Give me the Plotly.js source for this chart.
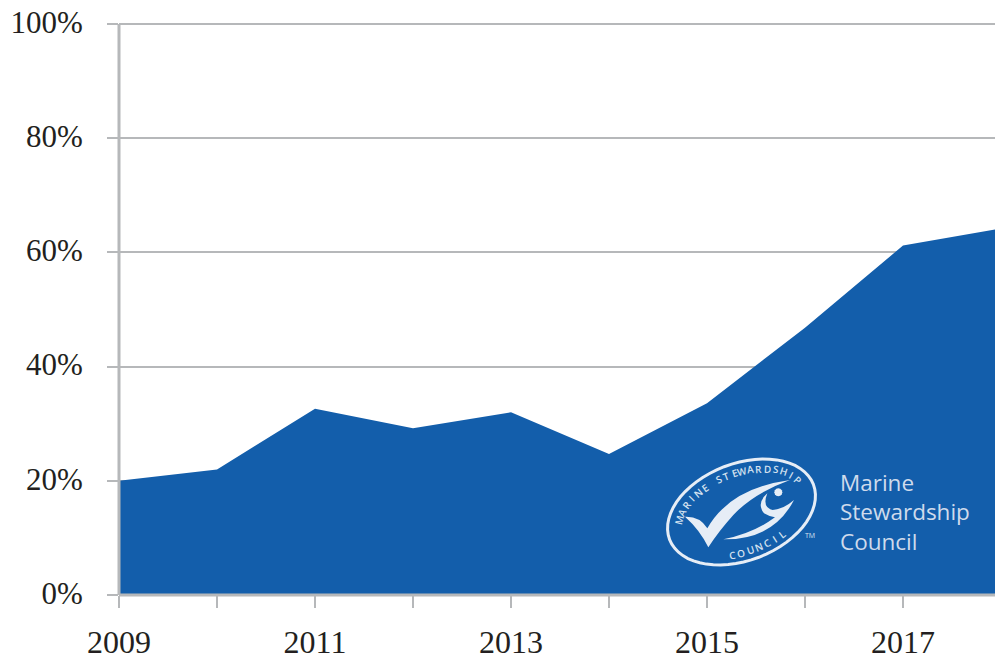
<!DOCTYPE html>
<html><head><meta charset="utf-8">
<script src="https://cdn.plot.ly/plotly-3.0.1.min.js"></script>
<style>html,body{margin:0;padding:0;background:#fff}#c{width:995px;height:661px}</style></head>
<body><div id="c"></div>
<script>
const years=[2009,2010,2011,2012,2013,2014,2015,2016,2017,2018];
const shares=[20,22,32.6,29.2,32,24.7,33.6,46.8,61.2,64.2];
const tickYears=[2009,2010,2011,2012,2013,2014,2015,2016,2017];
const tickYearLabels=['2009','','2011','','2013','','2015','','2017'];
const yTicks=[0,20,40,60,80,100];
const yLabels=['0%','20%','40%','60%','80%','100%'];
const logoLines=['Marine','Stewardship','Council'];
const ringTop='MARINE STEWARDSHIP';
const ringBottom='COUNCIL';
const tm='TM';
const font='"Liberation Serif","DejaVu Serif",serif';
const W=995,H=661,l=119,r=995,t=24,b=595;
const grey='#b6b8ba', ink='#231f20', blue='#135eab', logoWhite='#e6edf6';
const px=x=>(x-l)/(r-l), py=y=>1-(y-t)/(b-t);
const zx=x=>650+x/3, zy=y=>450+y/3;

// Logo geometry (decoration, in reference pixels)
const cx=741.5,cy=512,rot=-21*Math.PI/180;
const ell=(a,bb,d)=>{const q=d*Math.PI/180,u=a*Math.cos(q),v=bb*Math.sin(q);
  return [cx+u*Math.cos(rot)-v*Math.sin(rot),cy+u*Math.sin(rot)+v*Math.cos(rot)];};
let ringPath='';
for(let d=0;d<360;d+=6){const p=ell(77,48.5,d);ringPath+=(d?'L':'M')+px(p[0])+','+py(p[1]);}
ringPath+='Z';
const P=(x,y)=>px(zx(x))+','+py(zy(y));
const check='M'+P(105,200)+'Q'+P(150,198)+' '+P(172,235)+'Q'+P(240,115)+' '+P(420,90)
  +'Q'+P(310,130)+' '+P(250,195)+'Q'+P(205,245)+' '+P(175,292)+'Q'+P(150,240)+' '+P(105,200)+'Z';
const fish='M'+P(220,268)+'Q'+P(370,270)+' '+P(432,150)+'Q'+P(400,178)+' '+P(368,180)
  +'Q'+P(335,172)+' '+P(352,130)+'Q'+P(318,160)+' '+P(342,190)+'Q'+P(358,200)+' '+P(375,202)
  +'Q'+P(310,250)+' '+P(220,268)+'Z';
let dot='';
for(let d=0;d<360;d+=30){const q=d*Math.PI/180;dot+=(d?'L':'M')+P(385+12*Math.cos(q),127+12*Math.sin(q));}
dot+='Z';

// Letters set along the logo ring
function ringText(str,d0,d1,a,bb,size){
  const n=400,pts=[],len=[0];
  for(let i=0;i<=n;i++){pts.push(ell(a,bb,d0+(d1-d0)*i/n));
    if(i)len.push(len[i-1]+Math.hypot(pts[i][0]-pts[i-1][0],pts[i][1]-pts[i-1][1]));}
  return str.split('').map((ch,i)=>{
    if(ch===' ')return null;
    const target=len[n]*i/(str.length-1);
    let k=0;while(k<n&&len[k]<target)k++;
    const j0=Math.max(0,k-1),j1=Math.min(n,k+1);
    const ang=Math.atan2(pts[j1][1]-pts[j0][1],pts[j1][0]-pts[j0][0])*180/Math.PI;
    return {xref:'paper',yref:'paper',x:px(pts[k][0]),y:py(pts[k][1]),xanchor:'center',yanchor:'middle',
      text:ch,textangle:ang,showarrow:false,borderpad:0,borderwidth:0,
      font:{family:'"Open Sans",sans-serif',size:size,weight:600,color:'#d5e2f0'}};
  }).filter(Boolean);
}

const trace={x:years,y:shares,type:'scatter',mode:'lines',fill:'tozeroy',fillcolor:blue,line:{color:blue,width:0},hoverinfo:'x+y'};
const axisShape=(x0,y0,x1,y1,w)=>({type:'line',xref:'paper',yref:'paper',x0:px(x0),y0:py(y0),x1:px(x1),y1:py(y1),line:{color:grey,width:w}});
const fillShape=(path)=>({type:'path',xref:'paper',yref:'paper',path,fillcolor:logoWhite,line:{width:0}});
const layout={width:W,height:H,paper_bgcolor:'#fff',plot_bgcolor:'#fff',showlegend:false,
margin:{l:l,r:W-r,t:t,b:H-b,pad:0},
xaxis:{range:[2009,2009+(r-l)/98],tickvals:tickYears,ticktext:tickYearLabels,tickmode:'array',showgrid:false,zeroline:false,showline:false,
  ticks:'outside',ticklen:12,tickwidth:2,tickcolor:grey,ticklabelstandoff:7,tickfont:{family:font,size:32,color:ink},automargin:false},
yaxis:{range:[0,100],tickvals:yTicks,ticktext:yLabels,tickmode:'array',showgrid:true,gridcolor:grey,gridwidth:2,zeroline:false,showline:false,
  ticks:'outside',ticklen:11,tickwidth:2,tickcolor:grey,ticklabelstandoff:18,ticklabelshift:-2,tickfont:{family:font,size:31,color:ink},automargin:false},
shapes:[axisShape(l,t,r,t,2),axisShape(l,t,l,b,3),axisShape(l,b,r,b,3),
  {type:'path',xref:'paper',yref:'paper',path:ringPath,fillcolor:'rgba(0,0,0,0)',line:{color:logoWhite,width:3}},
  fillShape(check),fillShape(fish),fillShape(dot)],
annotations:[{xref:'paper',yref:'paper',x:px(838),y:py(512),xanchor:'left',yanchor:'middle',align:'left',text:logoLines.join('<br>'),showarrow:false,font:{family:'"Open Sans",sans-serif',size:22.5,color:'#cfdbec'}}]
  .concat(ringText(ringTop,-157,-15,66.5,39,10))
  .concat(ringText(ringBottom,111,63,66.5,39,10))
  .concat([{xref:'paper',yref:'paper',x:px(810),y:py(535),xanchor:'center',yanchor:'middle',text:tm,showarrow:false,font:{family:'"Open Sans",sans-serif',size:7,color:'#d5e2f0'}}])};
Plotly.newPlot('c',[trace],layout,{displayModeBar:false,staticPlot:true});
</script></body></html>
